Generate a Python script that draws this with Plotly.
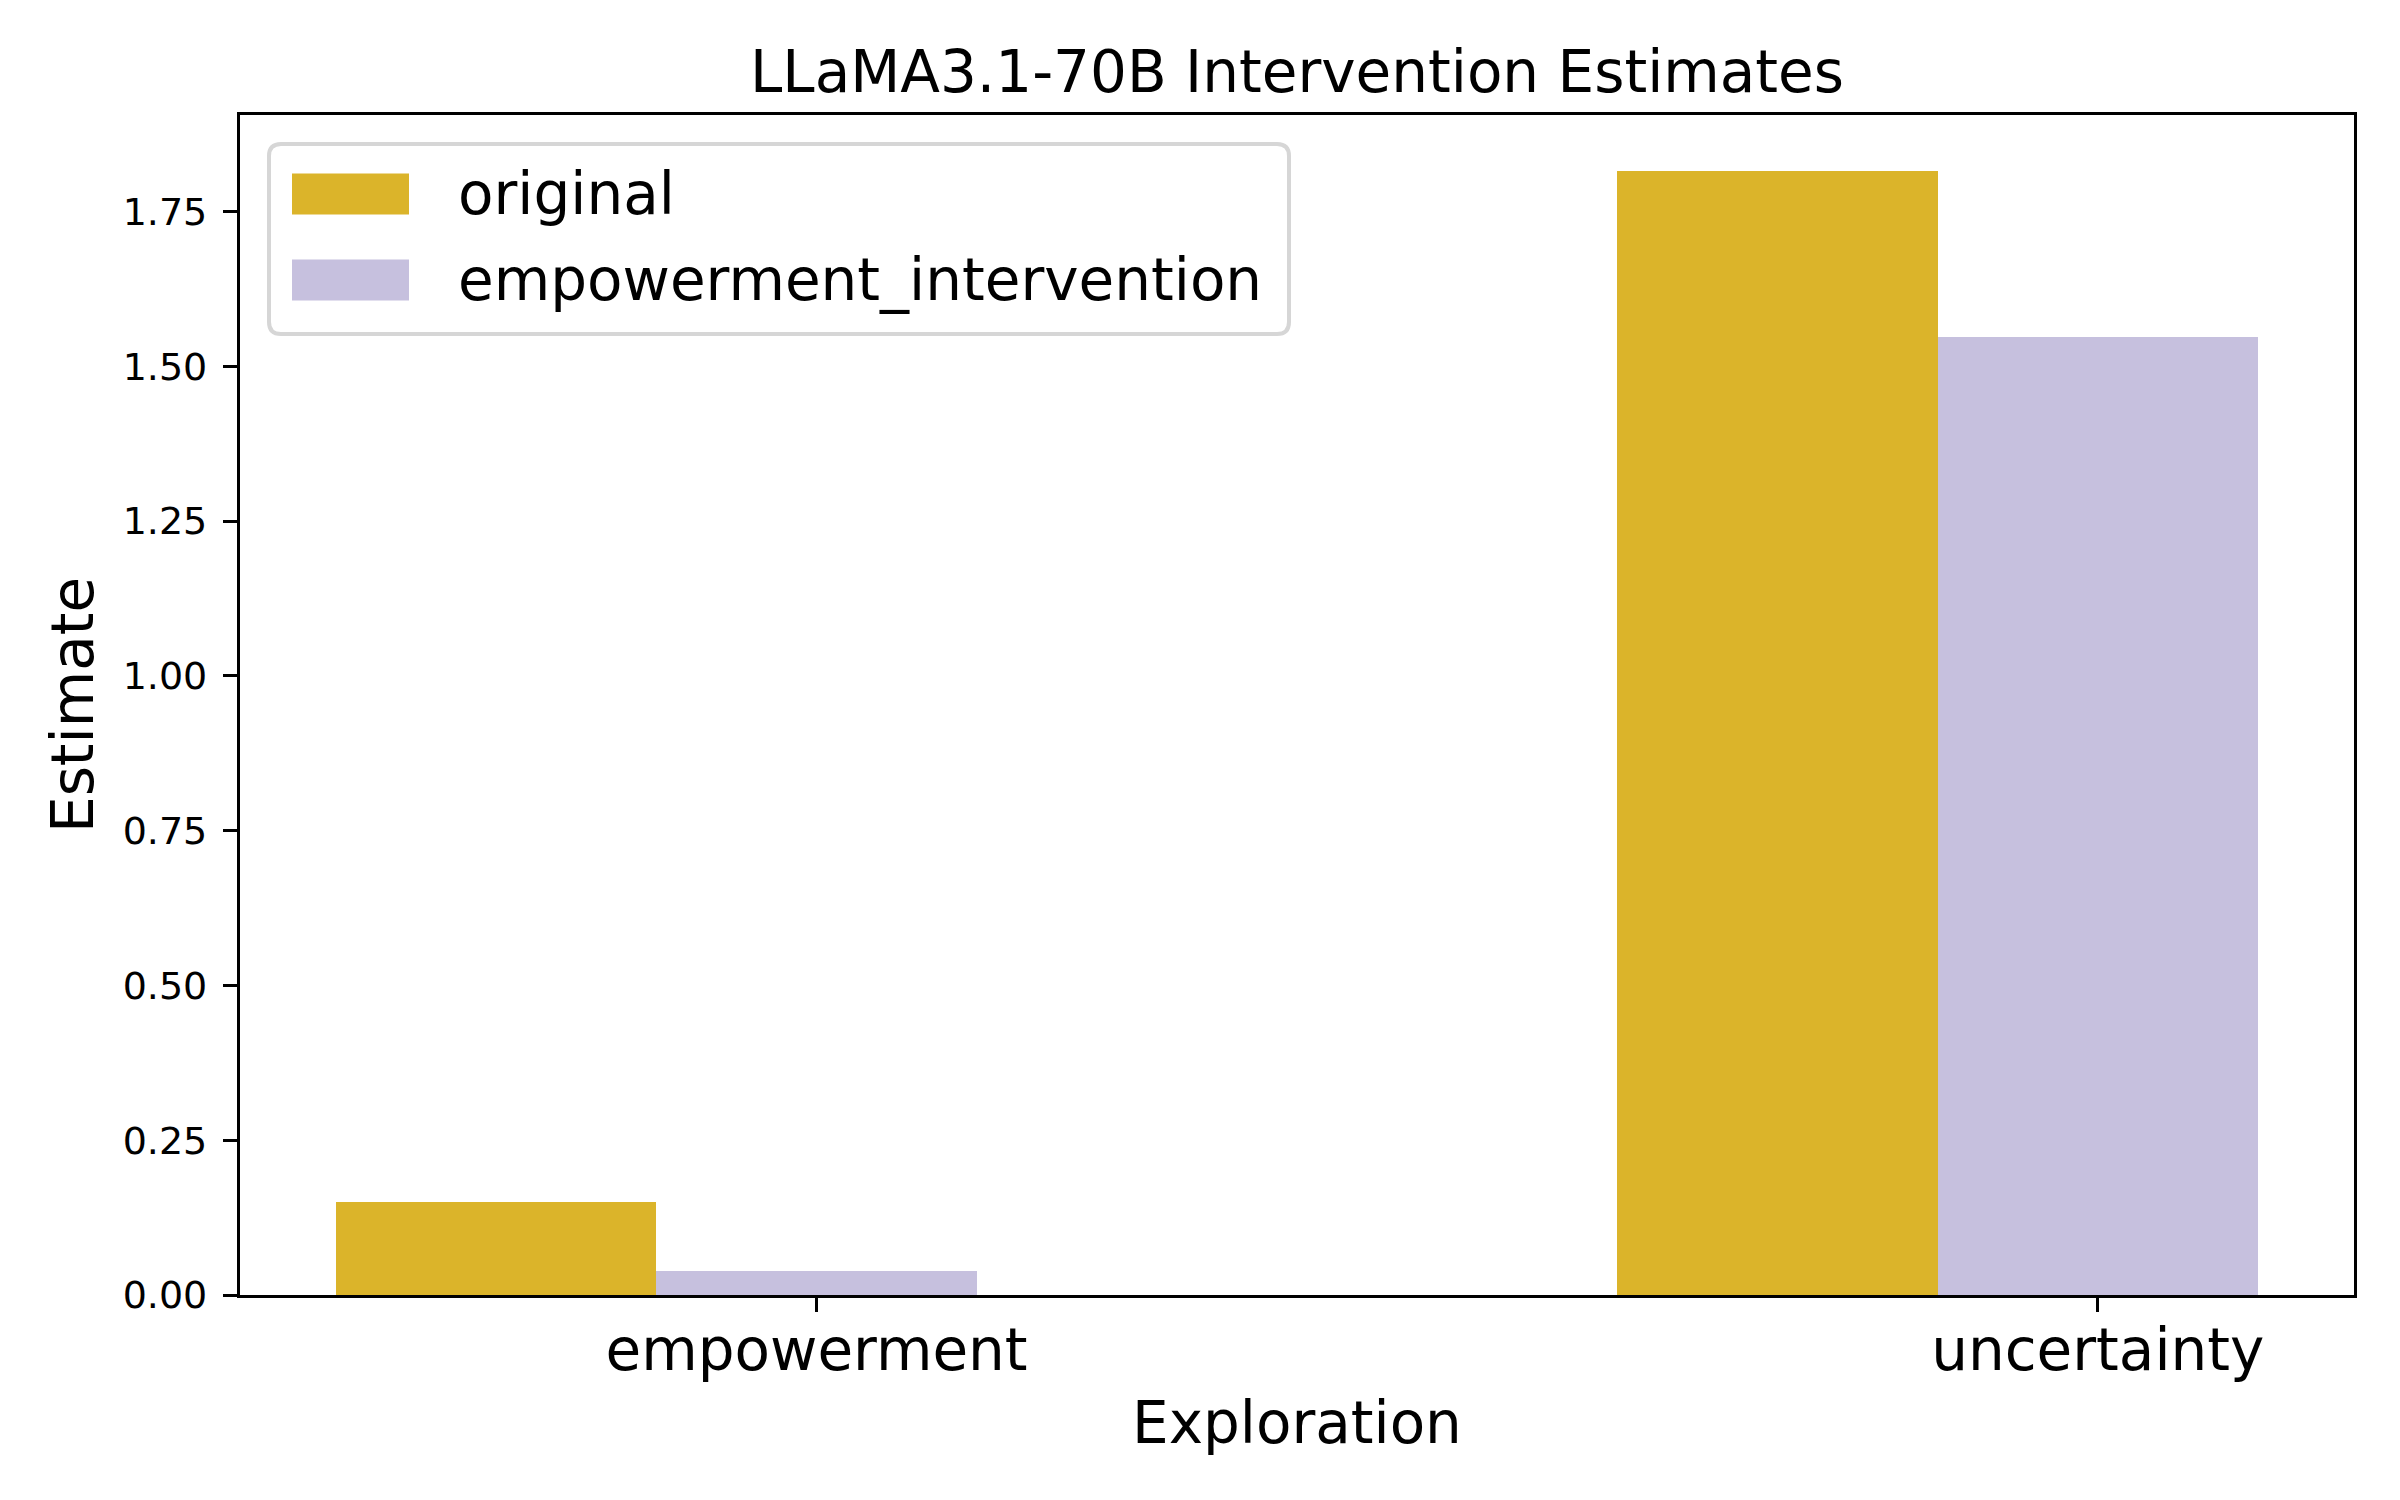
import plotly.graph_objects as go

# ---- data ----
categories = ["empowerment", "uncertainty"]
series_names = ["original", "empowerment_intervention"]
original = [0.150, 1.815]
empowerment_intervention = [0.039, 1.547]

# ---- style ----
colors = ["#DBB42A", "#C6C0DE"]
OFF = 8                      # page body margin in the browser
W, H = 2400 - OFF, 1500 - OFF
L, R, T, B = 240, 2354, 115, 1295   # plot-area pixel box (page coords)
FONT = "DejaVu Sans"
bar_w = 0.25

def px(x):  # page pixel -> paper x
    return (x - L) / (R - L)

def py(y):  # page pixel -> paper y
    return (B - y) / (B - T)

fig = go.Figure()
idx = list(range(len(categories)))
for k, (name, vals) in enumerate(zip(series_names, [original, empowerment_intervention])):
    fig.add_trace(go.Bar(
        x=[i + k * bar_w for i in idx],
        y=vals,
        width=bar_w,
        name=name,
        marker=dict(color=colors[k], line=dict(width=0)),
        showlegend=False,
    ))

ymax = max(original + empowerment_intervention) * 1.05
span = len(categories) - 1 + 2 * bar_w
xmin = -bar_w / 2 - 0.05 * span
xmax = len(categories) - 1 + bar_w * 1.5 + 0.05 * span

fig.update_layout(
    width=W, height=H,
    margin=dict(l=L - OFF, r=W - (R - OFF), t=T - OFF, b=H - (B - OFF), pad=0),
    plot_bgcolor="white", paper_bgcolor="white",
    barmode="overlay", bargap=0,
    font=dict(family=FONT, color="black"),
    title=dict(text="LLaMA3.1-70B Intervention Estimates",
               x=((L + R) / 2 - OFF) / W, xanchor="center",
               y=1 - (72 - OFF) / H, yanchor="middle", yref="container",
               font=dict(size=58, family=FONT, color="black")),
    xaxis=dict(range=[xmin, xmax], tickvals=[i + bar_w for i in idx], ticktext=categories,
               showline=True, mirror=True, linecolor="black", linewidth=3.3,
               ticks="outside", ticklen=14, tickwidth=3.3, tickcolor="black",
               showgrid=False, zeroline=False,
               tickfont=dict(size=58, family=FONT, color="black"),
               ticklabelstandoff=-12),
    yaxis=dict(range=[0, ymax], tickvals=[0, 0.25, 0.5, 0.75, 1.0, 1.25, 1.5, 1.75],
               ticktext=["0.00", "0.25", "0.50", "0.75", "1.00", "1.25", "1.50", "1.75"],
               showline=True, mirror=True, linecolor="black", linewidth=3.3,
               ticks="outside", ticklen=14, tickwidth=3.3, tickcolor="black",
               showgrid=False, zeroline=False,
               tickfont=dict(size=38, family=FONT, color="black"),
               ticklabelstandoff=8),
)

# axis titles
fig.add_annotation(text="Exploration", xref="paper", yref="paper",
                   x=0.5, y=py(1423), xanchor="center", yanchor="middle",
                   showarrow=False, font=dict(size=58, family=FONT, color="black"))
fig.add_annotation(text="Estimate", xref="paper", yref="paper",
                   x=px(73), y=0.5, xanchor="center", yanchor="middle", textangle=-90,
                   showarrow=False, font=dict(size=58, family=FONT, color="black"))

# custom matplotlib-style legend
bx0, by0, bx1, by1, rr = 269, 144, 1289, 334, 12
path = (f"M {px(bx0 + rr)} {py(by0)} L {px(bx1 - rr)} {py(by0)} "
        f"Q {px(bx1)} {py(by0)} {px(bx1)} {py(by0 + rr)} "
        f"L {px(bx1)} {py(by1 - rr)} Q {px(bx1)} {py(by1)} {px(bx1 - rr)} {py(by1)} "
        f"L {px(bx0 + rr)} {py(by1)} Q {px(bx0)} {py(by1)} {px(bx0)} {py(by1 - rr)} "
        f"L {px(bx0)} {py(by0 + rr)} Q {px(bx0)} {py(by0)} {px(bx0 + rr)} {py(by0)} Z")
fig.add_shape(type="path", path=path, xref="paper", yref="paper",
              fillcolor="rgba(255,255,255,0.8)", line=dict(color="#d6d6d6", width=4))
row_centers = [194, 280]
for k, name in enumerate(series_names):
    cy = row_centers[k]
    fig.add_shape(type="rect", xref="paper", yref="paper",
                  x0=px(292), x1=px(409), y0=py(cy - 20.5), y1=py(cy + 20.5),
                  fillcolor=colors[k], line=dict(width=0))
    fig.add_annotation(text=name, xref="paper", yref="paper",
                       x=px(456), y=py(cy), xanchor="left", yanchor="middle",
                       showarrow=False, font=dict(size=58, family=FONT, color="black"))

fig.write_html("out.html")
